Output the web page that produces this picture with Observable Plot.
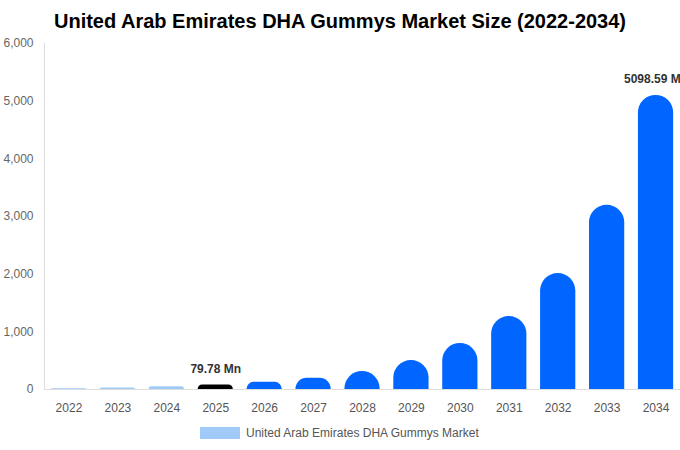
<!DOCTYPE html>
<html>
<head>
<meta charset="utf-8">
<script src="https://cdn.jsdelivr.net/npm/d3@7"></script>
<script src="https://cdn.jsdelivr.net/npm/@observablehq/plot@0.6"></script>
<style>
  html, body { margin: 0; padding: 0; background: #fff; width: 680px; overflow: hidden; }
  body { font-family: "Liberation Sans", Arial, sans-serif; }
  #title { height: 36px; line-height: 42px; text-align: center; font-weight: bold; font-size: 20px; color: #000; white-space: nowrap; }
  #legend { display: flex; align-items: center; justify-content: flex-start; padding-left: 200px; height: 34px; font-size: 12px; color: #555; }
  #legend .sw { width: 40px; height: 12px; background: #a0cbf9; margin-right: 6px; }
</style>
</head>
<body>
<div id="title">United Arab Emirates DHA Gummys Market Size (2022-2034)</div>
<div id="chart"></div>
<div id="legend"><span class="sw"></span><span>United Arab Emirates DHA Gummys Market</span></div>
<script>
const years = ["2022","2023","2024","2025","2026","2027","2028","2029","2030","2031","2032","2033","2034"];
const values = [14, 26, 48, 79.78, 124, 195, 312, 502, 797, 1265, 2010, 3194, 5098.59];
const phases = ["hist","hist","hist","base","fc","fc","fc","fc","fc","fc","fc","fc","fc"];
const labels = [null, null, null, "79.78 Mn", null, null, null, null, null, null, null, null, "5098.59 Mn"];
const yTicks = [0, 1000, 2000, 3000, 4000, 5000, 6000];

const data = years.map((y, i) => ({year: y, value: values[i], phase: phases[i], label: labels[i]}));
const colorOf = {hist: "#a0cbf9", base: "#000000", fc: "#0066ff"};

const chart = Plot.plot({
  width: 680,
  height: 380,
  marginTop: 7,
  marginBottom: 27,
  marginLeft: 44,
  marginRight: 0,
  style: {fontFamily: "'Liberation Sans', Arial, sans-serif", fontSize: "12px", overflow: "visible"},
  x: {domain: years, paddingInner: 0.28, paddingOuter: 0.14, round: false, label: null},
  y: {domain: [0, 6000], label: null},
  marks: [
    Plot.frame({anchor: "left", stroke: "#dddddd"}),
    Plot.barY(data, {x: "year", y: "value", fill: d => colorOf[d.phase], ry1: 17.5, rx1y1: 17.5, rx2y1: 17.5}),
    Plot.ruleY([0], {stroke: "#dddddd"}),
    Plot.axisX({tickSize: 0, tickPadding: 14, fill: "#555", fontSize: 12}),
    Plot.axisY({ticks: yTicks, tickSize: 0, tickPadding: 11, tickFormat: d3.format(","), fill: "#666", fontSize: 12}),
    Plot.text(data.filter(d => d.label), {x: "year", y: "value", text: "label", dy: -16, fontWeight: "bold", fontSize: 12, fill: "#333"})
  ]
});
document.getElementById("chart").appendChild(chart);
</script>
</body>
</html>
